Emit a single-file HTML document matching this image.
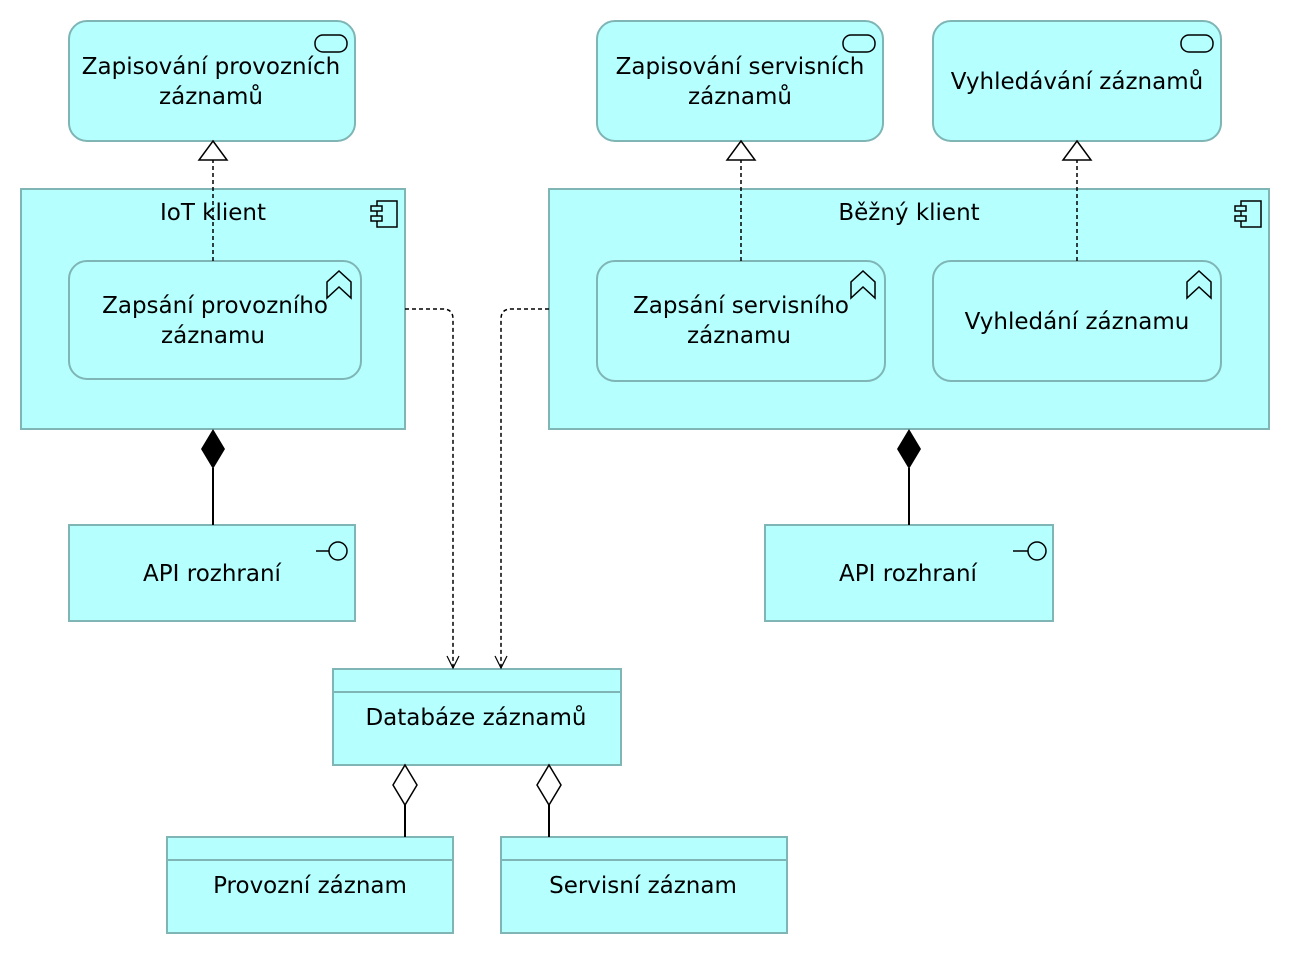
<!DOCTYPE html>
<html><head><meta charset="utf-8"><style>body{margin:0;background:#fff}svg{display:block}text{font-family:"DejaVu Sans","Liberation Sans",sans-serif;font-size:23px;fill:#000;text-anchor:middle}</style></head><body>
<svg width="1290" height="954" viewBox="0 0 1290 954" xmlns="http://www.w3.org/2000/svg">
<g fill="#b5ffff" stroke="#7fb5b5" stroke-width="2">
<rect x="69" y="21" width="286" height="120" rx="18"/>
<rect x="597" y="21" width="286" height="120" rx="18"/>
<rect x="933" y="21" width="288" height="120" rx="18"/>
<rect x="21" y="189" width="384" height="240"/>
<rect x="549" y="189" width="720" height="240"/>
<rect x="69" y="261" width="292" height="118" rx="18"/>
<rect x="597" y="261" width="288" height="120" rx="18"/>
<rect x="933" y="261" width="288" height="120" rx="18"/>
<rect x="69" y="525" width="286" height="96"/>
<rect x="765" y="525" width="288" height="96"/>
<rect x="333" y="669" width="288" height="96"/><line x1="333" y1="692" x2="621" y2="692"/>
<rect x="167" y="837" width="286" height="96"/><line x1="167" y1="860" x2="453" y2="860"/>
<rect x="501" y="837" width="286" height="96"/><line x1="501" y1="860" x2="787" y2="860"/>
</g>
<g fill="none" stroke="#000" stroke-width="1.5">
<rect x="315" y="35" width="32" height="17" rx="8"/>
<rect x="843" y="35" width="32" height="17" rx="8"/>
<rect x="1181" y="35" width="32" height="17" rx="8"/>
<rect x="377" y="201" width="20" height="26"/><rect x="371" y="206" width="11" height="5" fill="#b5ffff"/><rect x="371" y="216" width="11" height="5" fill="#b5ffff"/>
<rect x="1241" y="201" width="20" height="26"/><rect x="1235" y="206" width="11" height="5" fill="#b5ffff"/><rect x="1235" y="216" width="11" height="5" fill="#b5ffff"/>
<path d="M327 298 V282 L339 271 L351 282 V298 L339 287 Z"/>
<path d="M851 298 V282 L863 271 L875 282 V298 L863 287 Z"/>
<path d="M1187 298 V282 L1199 271 L1211 282 V298 L1199 287 Z"/>
<line x1="316" y1="551" x2="329" y2="551"/><circle cx="338" cy="551" r="9"/>
<line x1="1013" y1="551" x2="1028" y2="551"/><circle cx="1037" cy="551" r="9"/>
</g>
<g stroke="#000" stroke-width="1.5" fill="none" stroke-dasharray="4,3">
<line x1="213" y1="261" x2="213" y2="160"/>
<line x1="741" y1="261" x2="741" y2="160"/>
<line x1="1077" y1="261" x2="1077" y2="160"/>
<path d="M405 309 H443 Q453 309 453 319 V668"/>
<path d="M549 309 H511 Q501 309 501 319 V668"/>
</g>
<g stroke="#000" stroke-width="1.5" fill="#fff">
<path d="M213 141 L227 160 H199 Z"/><path d="M741 141 L755 160 H727 Z"/><path d="M1077 141 L1091 160 H1063 Z"/>
<path d="M405 765 L417 785 L405 805 L393 785 Z"/><path d="M549 765 L561 785 L549 805 L537 785 Z"/>
</g>
<g stroke="#000" stroke-width="2" fill="none">
<line x1="405" y1="805" x2="405" y2="837"/><line x1="549" y1="805" x2="549" y2="837"/>
<line x1="213" y1="468" x2="213" y2="525"/><line x1="909" y1="468" x2="909" y2="525"/>
<path d="M447 656 L453 668 L459 656" stroke-width="1.2"/><path d="M495 656 L501 668 L507 656" stroke-width="1.2"/>
</g>
<path d="M213 429 L225 449 L213 469 L201 449 Z" fill="#000"/><path d="M909 429 L921 449 L909 469 L897 449 Z" fill="#000"/>
<text x="211" y="74">Zapisování provozních</text><text x="211" y="104">záznamů</text>
<text x="740" y="74">Zapisování servisních</text><text x="740" y="104">záznamů</text>
<text x="1077" y="89">Vyhledávání záznamů</text>
<text x="213" y="220">IoT klient</text><text x="909" y="220">Běžný klient</text>
<text x="215" y="313">Zapsání provozního</text><text x="213" y="343">záznamu</text>
<text x="741" y="313">Zapsání servisního</text><text x="739" y="343">záznamu</text>
<text x="1077" y="329">Vyhledání záznamu</text>
<text x="212" y="581">API rozhraní</text><text x="908" y="581">API rozhraní</text>
<text x="476" y="725">Databáze záznamů</text>
<text x="310" y="893">Provozní záznam</text><text x="643" y="893">Servisní záznam</text>
</svg>
</body></html>
